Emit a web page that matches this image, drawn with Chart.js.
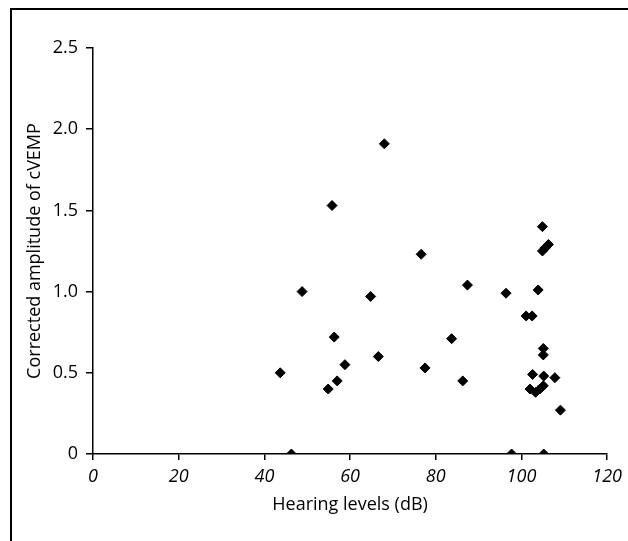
<!DOCTYPE html>
<html>
<head>
<meta charset="utf-8">
<script src="https://cdn.jsdelivr.net/npm/chart.js@4/dist/chart.umd.min.js"></script>
<style>
  html, body { margin: 0; padding: 0; background: #fff; }
  #wrap { position: relative; width: 628px; height: 541px; }
  #frame { position: absolute; left: 10px; top: 8px; right: 0; bottom: 0;
           border-top: 2px solid #000; border-left: 2px solid #000; pointer-events: none; }
  canvas { position: absolute; left: 0; top: 0; }
</style>
</head>
<body>
<div id="wrap">
  <canvas id="c" width="628" height="541"></canvas>
  <div id="frame"></div>
</div>
<script>
// Hearing level (dB) of each subject
const hearingLevels = [43.7, 46.3, 48.8, 54.9, 55.8, 56.3, 57.0, 58.8, 64.8, 66.6, 68.0,
  76.6, 77.5, 83.7, 86.3, 87.4, 96.4, 97.7, 101.1, 102.5, 103.9, 104.9, 104.9, 105.6,
  106.3, 105.1, 105.1, 102.6, 107.8, 105.2, 102.0, 103.3, 105.1, 104.3, 109.1, 105.2];
// Corrected amplitude of cVEMP
const amplitudes = [0.50, 0, 1.00, 0.40, 1.53, 0.72, 0.45, 0.55, 0.97, 0.60, 1.91,
  1.23, 0.53, 0.71, 0.45, 1.04, 0.99, 0, 0.85, 0.85, 1.01, 1.40, 1.25, 1.27,
  1.29, 0.65, 0.61, 0.49, 0.47, 0.48, 0.40, 0.38, 0.42, 0.40, 0.27, 0];
const xTicks = [0, 20, 40, 60, 80, 100, 120];
const yTicks = [0, 0.5, 1.0, 1.5, 2.0, 2.5];
const yTickLabels = ['0', '0.5', '1.0', '1.5', '2.0', '2.5'];
const xTitle = 'Hearing levels (dB)';
const yTitle = 'Corrected amplitude of cVEMP';

const points = hearingLevels.map((x, i) => ({ x: x, y: amplitudes[i] }));
const FONT = '"Open Sans", "Noto Sans", sans-serif';
const INK = '#000';

new Chart(document.getElementById('c'), {
  type: 'scatter',
  data: {
    datasets: [{
      data: points,
      pointStyle: 'rectRot',
      pointRadius: 5,
      pointBackgroundColor: INK,
      pointBorderColor: INK,
      pointBorderWidth: 1
    }]
  },
  options: {
    responsive: false,
    animation: false,
    layout: { padding: { left: 20, top: 48, right: 17, bottom: 21 } },
    plugins: { legend: { display: false }, tooltip: { enabled: false } },
    scales: {
      x: {
        type: 'linear', min: 0, max: 120,
        afterBuildTicks: s => { s.ticks = xTicks.map(v => ({ value: v })); },
        afterFit: s => { s.height = 66; },
        grid: { display: true, drawOnChartArea: false, drawTicks: true, tickLength: 6, color: INK, lineWidth: 1.5 },
        border: { display: true, color: INK, width: 1.5 },
        ticks: { color: INK, padding: 6, font: { family: FONT, size: 18, style: 'italic' } },
        title: { display: true, text: xTitle, color: INK, padding: { top: 4, bottom: 4 }, font: { family: FONT, size: 18 } }
      },
      y: {
        type: 'linear', min: 0, max: 2.5,
        afterBuildTicks: s => { s.ticks = yTicks.map(v => ({ value: v })); },
        afterFit: s => { s.width = 73; },
        grid: { display: true, drawOnChartArea: false, drawTicks: true, tickLength: 7, color: INK, lineWidth: 1.5 },
        border: { display: true, color: INK, width: 1.5 },
        ticks: {
          color: INK, padding: 8, font: { family: FONT, size: 18 },
          callback: (v) => { const i = yTicks.indexOf(v); return i >= 0 ? yTickLabels[i] : ''; }
        },
        title: { display: true, text: yTitle, color: INK, padding: { top: 4, bottom: 4 }, font: { family: FONT, size: 18 } }
      }
    }
  }
});
</script>
</body>
</html>
